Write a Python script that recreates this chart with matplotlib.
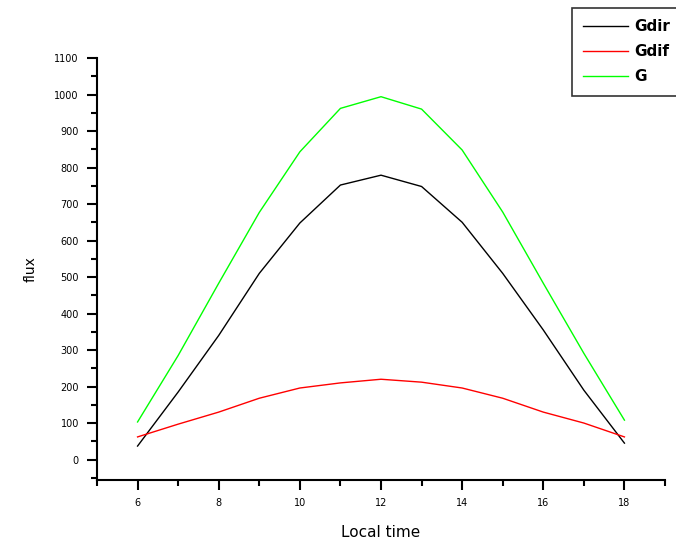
import matplotlib
matplotlib.use("Agg")
import matplotlib.pyplot as plt
from matplotlib.ticker import MultipleLocator

# dane
hours = [6, 7, 8, 9, 10, 11, 12, 13, 14, 15, 16, 17, 18]
gdir = [37, 185, 340, 510, 648, 752, 779, 748, 650, 510, 355, 190, 45]
gdif = [62, 97, 130, 168, 196, 210, 220, 212, 196, 168, 130, 100, 62]
g = [103, 285, 483, 677, 843, 962, 994, 960, 848, 678, 483, 291, 108]

fig = plt.figure(figsize=(6.76, 5.45), dpi=100)
ax = fig.add_axes([97 / 676, 1 - 480 / 545, (665 - 97) / 676, (480 - 58) / 545])

ax.plot(hours, gdir, color="black", lw=1, label="Gdir")
ax.plot(hours, gdif, color="#ff0000", lw=1, label="Gdif")
ax.plot(hours, g, color="#00ff00", lw=1, label="G")

ax.set_xlim(5, 19)
ax.set_ylim(-56, 1100)
ax.xaxis.set_major_locator(MultipleLocator(2))
ax.xaxis.set_minor_locator(MultipleLocator(1))
ax.yaxis.set_major_locator(MultipleLocator(100))
ax.yaxis.set_minor_locator(MultipleLocator(50))
ax.set_xticks([6, 8, 10, 12, 14, 16, 18])

for s in ["top", "right"]:
    ax.spines[s].set_visible(False)
for s in ["left", "bottom"]:
    ax.spines[s].set_linewidth(1.5)

ax.tick_params(which="major", direction="out", length=7, width=1.5, labelsize=7, pad=6)
ax.tick_params(which="minor", direction="out", length=4, width=1.5)

ax.set_xlabel("Local time", fontsize=11, labelpad=12)
ax.set_ylabel("flux", fontsize=10, labelpad=12)

### legenda wychodzi poza prawy brzeg (jak w oryginale)
leg = fig.legend(loc="upper left", bbox_to_anchor=(572 / 676, 1 - 8 / 545),
                 frameon=True, fancybox=False, fontsize=11, handlelength=2.9,
                 borderpad=0.75, labelspacing=0.65, handletextpad=0.45,
                 borderaxespad=0)
leg.get_frame().set_edgecolor("black")
leg.get_frame().set_linewidth(1.2)
for t in leg.get_texts():
    t.set_fontweight("semibold")

fig.savefig("out.png", dpi=100)
